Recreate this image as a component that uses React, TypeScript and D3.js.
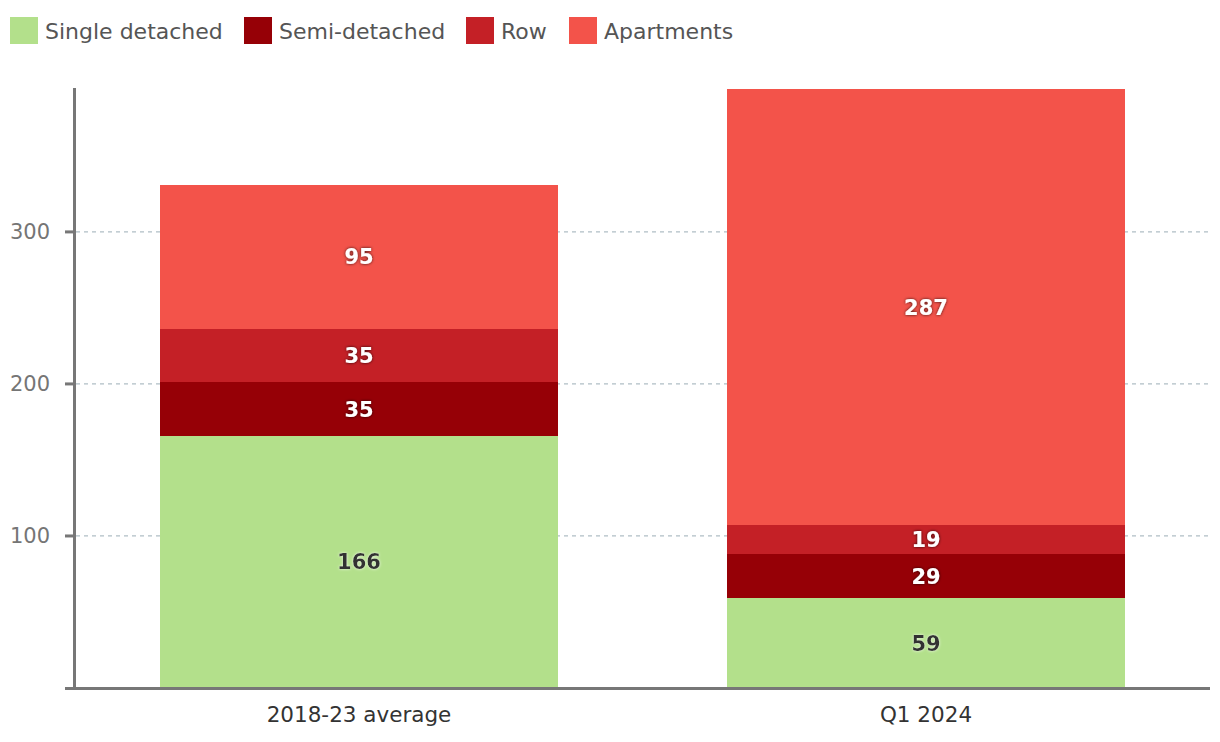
import React from "react";
import * as d3 from "d3";

const categories = ["2018-23 average", "Q1 2024"];
const seriesNames = ["Single detached", "Semi-detached", "Row", "Apartments"];
const singleDetached = [166, 59];
const semiDetached = [35, 29];
const row = [35, 19];
const apartments = [95, 287];
const yTicks = [100, 200, 300];
const colors = ["#b3e08b", "#960006", "#c42026", "#f3534a"];

const W = 1220;
const H = 742;
const FONT = "'DejaVu Sans', sans-serif";

export default function App() {
  const values = [singleDetached, semiDetached, row, apartments];
  const table = categories.map((c, i) => {
    const o: any = { cat: c };
    seriesNames.forEach((s, j) => (o[s] = values[j][i]));
    return o;
  });
  const stacked = d3.stack<any>().keys(seriesNames)(table);
  const maxV = d3.max(stacked[stacked.length - 1], (d) => d[1]) as number;

  const x = d3
    .scaleBand<string>()
    .domain(categories)
    .range([75.5, 1209.5])
    .paddingInner(0.298)
    .paddingOuter(0.149);
  const y = d3.scaleLinear().domain([0, maxV]).range([688, 89]);

  const legendX = [10, 244, 466, 569];

  return (
    <svg
      width={W}
      height={H}
      style={{ position: "absolute", left: 0, top: 0, fontFamily: FONT }}
    >
      <defs>
        <filter id="dark" x="-30%" y="-30%" width="160%" height="160%">
          <feDropShadow dx="0" dy="0" stdDeviation="1.5" floodColor="#000" floodOpacity="0.8" />
        </filter>
        <filter id="light" x="-30%" y="-30%" width="160%" height="160%">
          <feDropShadow dx="0" dy="0" stdDeviation="1.5" floodColor="#fff" floodOpacity="0.8" />
        </filter>
      </defs>
      <rect width={W} height={H} fill="#fff" />
      {/* legend */}
      {seriesNames.map((s, i) => (
        <g key={s}>
          <rect x={legendX[i]} y={17} width={28} height={27} fill={colors[i]} />
          <text x={legendX[i] + 35} y={39} fontSize={22} fill="#555">
            {s}
          </text>
        </g>
      ))}
      {/* grid */}
      {yTicks.map((t) => (
        <g key={t}>
          <line
            x1={76}
            x2={1210}
            y1={y(t)}
            y2={y(t)}
            stroke="#b0bec5"
            strokeWidth={1.3}
            strokeDasharray="4,4"
          />
          <line x1={65} x2={75} y1={y(t)} y2={y(t)} stroke="#777" strokeWidth={3} />
          <text x={50} y={y(t) + 7.5} fontSize={21} fill="#757575" textAnchor="end">
            {t}
          </text>
        </g>
      ))}
      {/* bars */}
      {stacked.map((layer, j) => (
        <g key={layer.key}>
          {layer.map((d, i) => (
            <rect
              key={i}
              x={x(categories[i])}
              width={x.bandwidth()}
              y={y(d[1])}
              height={y(d[0]) - y(d[1])}
              fill={colors[j]}
              shapeRendering="crispEdges"
            />
          ))}
        </g>
      ))}
      {/* labels */}
      {stacked.map((layer, j) =>
        layer.map((d, i) => (
          <text
            key={layer.key + i}
            x={(x(categories[i]) as number) + x.bandwidth() / 2}
            y={(y(d[0]) + y(d[1])) / 2 + 7.5}
            textAnchor="middle"
            fontSize={21}
            fontWeight="bold"
            fill={j === 0 ? "#333" : "#fff"}
            filter={j === 0 ? "url(#light)" : "url(#dark)"}
          >
            {d[1] - d[0]}
          </text>
        ))
      )}
      {/* axes */}
      <line x1={74.5} x2={74.5} y1={88} y2={689} stroke="#777" strokeWidth={3} />
      <line x1={65} x2={1210} y1={688.5} y2={688.5} stroke="#777" strokeWidth={3} />
      {categories.map((c) => (
        <text
          key={c}
          x={(x(c) as number) + x.bandwidth() / 2}
          y={722}
          textAnchor="middle"
          fontSize={21.5}
          fill="#333"
        >
          {c}
        </text>
      ))}
    </svg>
  );
}
